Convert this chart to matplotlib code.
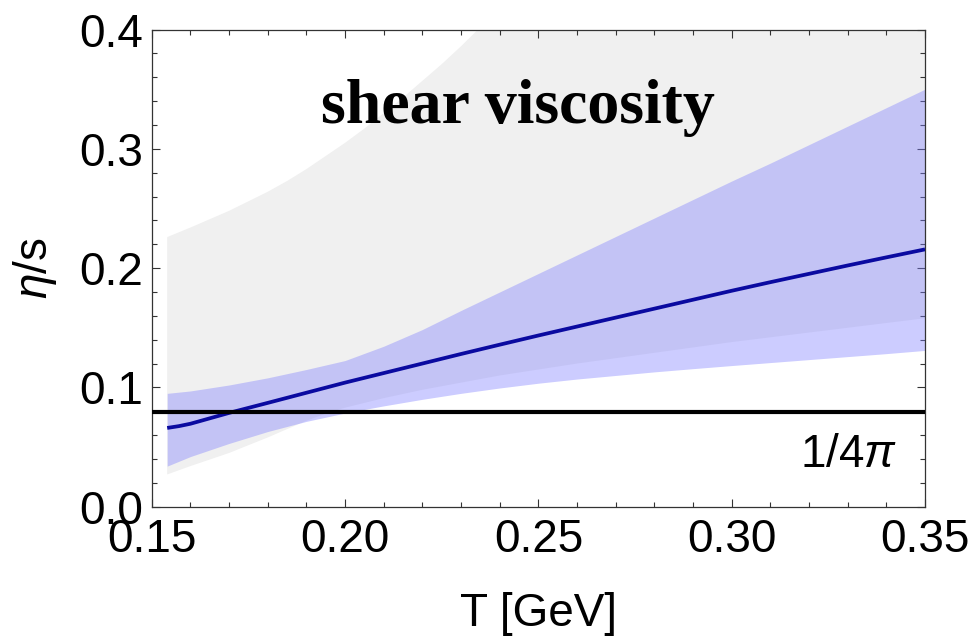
import matplotlib
matplotlib.use("Agg")
import matplotlib.pyplot as plt
import numpy as np

# ---- data ----
# prior band (light grey)
T_prior = [0.154, 0.16, 0.165, 0.17, 0.175, 0.18, 0.185, 0.19, 0.195, 0.20, 0.205, 0.21, 0.215,
           0.22, 0.225, 0.23, 0.235, 0.24, 0.25, 0.26, 0.28, 0.30, 0.32, 0.35]
prior_upper = [0.226, 0.234, 0.241, 0.248, 0.256, 0.264, 0.273, 0.283, 0.294, 0.305, 0.317, 0.330, 0.343,
               0.357, 0.371, 0.386, 0.402, 0.418, 0.452, 0.488, 0.56, 0.64, 0.72, 0.85]
prior_lower = [0.027, 0.034, 0.0395, 0.045, 0.0515, 0.058, 0.065, 0.072, 0.078, 0.083, 0.087, 0.091, 0.0945,
               0.098, 0.101, 0.104, 0.107, 0.110, 0.115, 0.120, 0.129, 0.138, 0.146, 0.158]

# posterior band (blue)
T_post = [0.154, 0.16, 0.17, 0.18, 0.19, 0.20, 0.21, 0.22, 0.23, 0.24, 0.25, 0.26, 0.27,
          0.28, 0.29, 0.30, 0.31, 0.32, 0.33, 0.34, 0.35]
post_upper = [0.095, 0.097, 0.102, 0.108, 0.115, 0.1225, 0.1345, 0.1485, 0.1645, 0.180, 0.1955, 0.211, 0.2265,
              0.242, 0.2575, 0.273, 0.288, 0.3035, 0.319, 0.3345, 0.350]
post_lower = [0.034, 0.042, 0.053, 0.063, 0.0715, 0.0785, 0.0845, 0.090, 0.095, 0.0995, 0.1035, 0.107, 0.110,
              0.113, 0.1157, 0.1183, 0.1208, 0.1233, 0.1258, 0.1283, 0.131]

# posterior mean (dark blue line)
T_mean = [0.154, 0.157, 0.16, 0.17, 0.18, 0.19, 0.20, 0.21, 0.22, 0.23, 0.24, 0.25, 0.26, 0.27,
          0.28, 0.29, 0.30, 0.31, 0.32, 0.33, 0.34, 0.35]
eta_s_mean = [0.066, 0.0675, 0.0695, 0.0786, 0.087, 0.0955, 0.104, 0.112, 0.120, 0.128, 0.1358, 0.1435, 0.151, 0.1585,
              0.166, 0.1735, 0.181, 0.1882, 0.1952, 0.2022, 0.2090, 0.2157]

kss_bound = 1.0 / (4.0 * np.pi)

x_ticks = [0.15, 0.20, 0.25, 0.30, 0.35]
x_tick_labels = ["0.15", "0.20", "0.25", "0.30", "0.35"]
y_ticks = [0.0, 0.1, 0.2, 0.3, 0.4]
y_tick_labels = ["0.0", "0.1", "0.2", "0.3", "0.4"]

# ---- style ----
plt.rcParams['font.family'] = ['Liberation Sans', 'DejaVu Sans']
plt.rcParams['mathtext.fontset'] = 'custom'
plt.rcParams['mathtext.rm'] = 'Liberation Sans'
plt.rcParams['mathtext.it'] = 'Liberation Sans:italic'

fig = plt.figure(figsize=(9.77, 6.42), dpi=100)
ax = fig.add_axes([0.1553, 0.2108, 0.9468 - 0.1553, 0.954 - 0.2108])

ax.fill_between(T_prior, prior_lower, prior_upper, color='#f0f0f0', linewidth=0, zorder=1)
ax.fill_between(T_post, post_lower, post_upper, color=(0.5, 0.5, 1.0), alpha=0.4, linewidth=0, zorder=2)
ax.plot(T_mean, eta_s_mean, color='#0a0aa0', linewidth=2.7, zorder=3, solid_capstyle='butt')
ax.axhline(kss_bound, color='black', linewidth=3.0, zorder=4)

ax.text(0.2447, 0.3216, "shear viscosity", family=['Liberation Serif', 'DejaVu Serif'],
        fontweight='bold', fontsize=46, ha='center', va='baseline', zorder=5)
ax.text(0.3428, 0.033, r"1/4$\pi$", fontsize=33, ha='right', va='baseline', zorder=5)

ax.set_xlim(0.15, 0.35)
ax.set_ylim(0.0, 0.4)
ax.set_xticks(x_ticks)
ax.set_xticklabels(x_tick_labels)
ax.set_yticks(y_ticks)
ax.set_yticklabels(y_tick_labels)
ax.set_xticks(np.arange(0.15, 0.3501, 0.01), minor=True)
ax.set_yticks(np.arange(0.0, 0.4001, 0.02), minor=True)

ax.tick_params(which='both', direction='in', top=True, right=True, width=0.8, color='#333333')
ax.tick_params(which='major', length=5.8)
ax.tick_params(which='minor', length=3.6)
ax.tick_params(axis='x', which='major', labelsize=33, pad=8)
ax.tick_params(axis='y', which='major', labelsize=33, pad=6.5)

for s in ax.spines.values():
    s.set_linewidth(0.9)
    s.set_color('#333333')

ax.set_xlabel("T [GeV]", fontsize=33, labelpad=22)
ax.set_ylabel(r"$\eta$/s", fontsize=33, labelpad=14)

fig.savefig("out.png", dpi=100)
